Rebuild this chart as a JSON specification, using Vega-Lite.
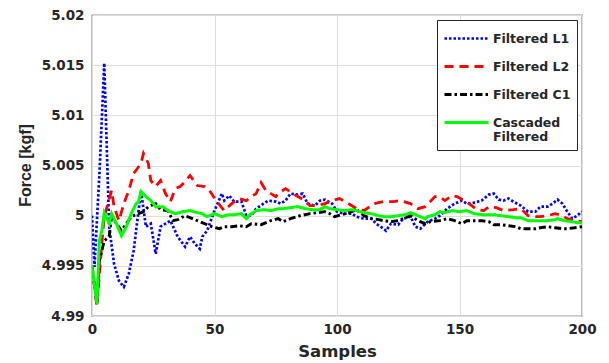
{
"$schema": "https://vega.github.io/schema/vega-lite/v6.json",
"width": 490, "height": 301,
"autosize": {"type": "none"},
"padding": {"left": 92, "top": 15, "right": 27, "bottom": 47},
"background": "white",
"config": {"view": {"stroke": "#262626", "strokeWidth": 1.2}, "font": "DejaVu Sans"},
"data": {"values": [
{"s":"Filtered L1","x":0,"y":5.0},{"s":"Filtered L1","x":1,"y":4.9949},{"s":"Filtered L1","x":3,"y":5.004},{"s":"Filtered L1","x":5,"y":5.0152},{"s":"Filtered L1","x":7,"y":4.9989},{"s":"Filtered L1","x":9,"y":4.9952},{"s":"Filtered L1","x":11,"y":4.9935},{"s":"Filtered L1","x":13,"y":4.9929},{"s":"Filtered L1","x":15,"y":4.9942},{"s":"Filtered L1","x":17,"y":4.9965},{"s":"Filtered L1","x":19,"y":5.0005},{"s":"Filtered L1","x":20,"y":5.0025},{"s":"Filtered L1","x":22,"y":4.9989},{"s":"Filtered L1","x":24,"y":4.9992},{"s":"Filtered L1","x":26,"y":4.9962},{"s":"Filtered L1","x":28,"y":4.9989},{"s":"Filtered L1","x":30,"y":4.9992},{"s":"Filtered L1","x":32,"y":4.9995},{"s":"Filtered L1","x":35,"y":4.9979},{"s":"Filtered L1","x":38,"y":4.9969},{"s":"Filtered L1","x":40,"y":4.9979},{"s":"Filtered L1","x":42,"y":4.9972},{"s":"Filtered L1","x":44,"y":4.9967},{"s":"Filtered L1","x":45,"y":4.9979},{"s":"Filtered L1","x":47,"y":4.9985},{"s":"Filtered L1","x":50,"y":5.0005},{"s":"Filtered L1","x":53,"y":5.0022},{"s":"Filtered L1","x":54,"y":5.0015},{"s":"Filtered L1","x":56,"y":5.002},{"s":"Filtered L1","x":58,"y":5.0014},{"s":"Filtered L1","x":61,"y":5.0014},{"s":"Filtered L1","x":63,"y":5.0},{"s":"Filtered L1","x":65,"y":5.0},{"s":"Filtered L1","x":67,"y":5.0007},{"s":"Filtered L1","x":70,"y":5.0012},{"s":"Filtered L1","x":72,"y":5.0015},{"s":"Filtered L1","x":75,"y":5.0014},{"s":"Filtered L1","x":77,"y":5.0012},{"s":"Filtered L1","x":79,"y":5.0015},{"s":"Filtered L1","x":81,"y":5.0022},{"s":"Filtered L1","x":84,"y":5.0021},{"s":"Filtered L1","x":86,"y":5.0022},{"s":"Filtered L1","x":88,"y":5.0012},{"s":"Filtered L1","x":91,"y":5.001},{"s":"Filtered L1","x":93,"y":5.0015},{"s":"Filtered L1","x":95,"y":5.0016},{"s":"Filtered L1","x":98,"y":5.0012},{"s":"Filtered L1","x":100,"y":5.0004},{"s":"Filtered L1","x":103,"y":5.0002},{"s":"Filtered L1","x":106,"y":5.0002},{"s":"Filtered L1","x":108,"y":4.9999},{"s":"Filtered L1","x":111,"y":4.9997},{"s":"Filtered L1","x":114,"y":4.9997},{"s":"Filtered L1","x":116,"y":4.9992},{"s":"Filtered L1","x":119,"y":4.9987},{"s":"Filtered L1","x":120,"y":4.9985},{"s":"Filtered L1","x":122,"y":4.9992},{"s":"Filtered L1","x":125,"y":4.9991},{"s":"Filtered L1","x":127,"y":4.9997},{"s":"Filtered L1","x":130,"y":4.9999},{"s":"Filtered L1","x":132,"y":4.9989},{"s":"Filtered L1","x":134,"y":4.9987},{"s":"Filtered L1","x":137,"y":4.9994},{"s":"Filtered L1","x":140,"y":4.9997},{"s":"Filtered L1","x":142,"y":5.0},{"s":"Filtered L1","x":145,"y":5.0007},{"s":"Filtered L1","x":148,"y":5.0012},{"s":"Filtered L1","x":151,"y":5.0015},{"s":"Filtered L1","x":153,"y":5.0012},{"s":"Filtered L1","x":156,"y":5.0013},{"s":"Filtered L1","x":159,"y":5.0015},{"s":"Filtered L1","x":162,"y":5.0021},{"s":"Filtered L1","x":164,"y":5.0022},{"s":"Filtered L1","x":166,"y":5.0016},{"s":"Filtered L1","x":168,"y":5.0015},{"s":"Filtered L1","x":170,"y":5.0017},{"s":"Filtered L1","x":172,"y":5.0014},{"s":"Filtered L1","x":175,"y":5.001},{"s":"Filtered L1","x":178,"y":5.0004},{"s":"Filtered L1","x":181,"y":5.0004},{"s":"Filtered L1","x":183,"y":5.0009},{"s":"Filtered L1","x":186,"y":5.0009},{"s":"Filtered L1","x":188,"y":5.0012},{"s":"Filtered L1","x":190,"y":5.0016},{"s":"Filtered L1","x":192,"y":5.0012},{"s":"Filtered L1","x":194,"y":5.0004},{"s":"Filtered L1","x":196,"y":4.9997},{"s":"Filtered L1","x":198,"y":5.0},{"s":"Filtered L1","x":200,"y":5.0004},
{"s":"Filtered L2","x":0,"y":4.995},{"s":"Filtered L2","x":2,"y":4.9909},{"s":"Filtered L2","x":4,"y":4.9972},{"s":"Filtered L2","x":5,"y":4.9999},{"s":"Filtered L2","x":8,"y":5.0025},{"s":"Filtered L2","x":9,"y":5.0009},{"s":"Filtered L2","x":11,"y":4.9995},{"s":"Filtered L2","x":13,"y":5.0012},{"s":"Filtered L2","x":15,"y":5.0025},{"s":"Filtered L2","x":17,"y":5.0042},{"s":"Filtered L2","x":20,"y":5.0052},{"s":"Filtered L2","x":21,"y":5.0062},{"s":"Filtered L2","x":23,"y":5.0052},{"s":"Filtered L2","x":24,"y":5.0035},{"s":"Filtered L2","x":26,"y":5.0029},{"s":"Filtered L2","x":28,"y":5.0035},{"s":"Filtered L2","x":30,"y":5.0022},{"s":"Filtered L2","x":32,"y":5.0014},{"s":"Filtered L2","x":34,"y":5.0027},{"s":"Filtered L2","x":36,"y":5.0029},{"s":"Filtered L2","x":38,"y":5.0034},{"s":"Filtered L2","x":40,"y":5.004},{"s":"Filtered L2","x":43,"y":5.003},{"s":"Filtered L2","x":46,"y":5.0029},{"s":"Filtered L2","x":48,"y":5.0025},{"s":"Filtered L2","x":51,"y":5.0014},{"s":"Filtered L2","x":54,"y":5.0005},{"s":"Filtered L2","x":57,"y":5.0012},{"s":"Filtered L2","x":60,"y":5.0017},{"s":"Filtered L2","x":63,"y":5.0015},{"s":"Filtered L2","x":65,"y":5.0019},{"s":"Filtered L2","x":67,"y":5.0022},{"s":"Filtered L2","x":69,"y":5.0033},{"s":"Filtered L2","x":71,"y":5.0025},{"s":"Filtered L2","x":73,"y":5.0022},{"s":"Filtered L2","x":75,"y":5.0019},{"s":"Filtered L2","x":76,"y":5.0022},{"s":"Filtered L2","x":79,"y":5.0027},{"s":"Filtered L2","x":82,"y":5.0022},{"s":"Filtered L2","x":84,"y":5.0019},{"s":"Filtered L2","x":87,"y":5.0015},{"s":"Filtered L2","x":89,"y":5.001},{"s":"Filtered L2","x":92,"y":5.001},{"s":"Filtered L2","x":95,"y":5.0012},{"s":"Filtered L2","x":98,"y":5.0015},{"s":"Filtered L2","x":101,"y":5.0017},{"s":"Filtered L2","x":104,"y":5.0013},{"s":"Filtered L2","x":108,"y":5.0007},{"s":"Filtered L2","x":111,"y":5.0005},{"s":"Filtered L2","x":115,"y":5.0012},{"s":"Filtered L2","x":119,"y":5.0014},{"s":"Filtered L2","x":123,"y":5.0014},{"s":"Filtered L2","x":126,"y":5.0015},{"s":"Filtered L2","x":130,"y":5.0012},{"s":"Filtered L2","x":133,"y":5.0007},{"s":"Filtered L2","x":136,"y":5.0009},{"s":"Filtered L2","x":140,"y":5.0019},{"s":"Filtered L2","x":142,"y":5.0019},{"s":"Filtered L2","x":144,"y":5.0015},{"s":"Filtered L2","x":147,"y":5.002},{"s":"Filtered L2","x":149,"y":5.0019},{"s":"Filtered L2","x":152,"y":5.0015},{"s":"Filtered L2","x":155,"y":5.001},{"s":"Filtered L2","x":157,"y":5.0006},{"s":"Filtered L2","x":160,"y":5.0005},{"s":"Filtered L2","x":162,"y":5.0009},{"s":"Filtered L2","x":165,"y":5.0008},{"s":"Filtered L2","x":168,"y":5.0005},{"s":"Filtered L2","x":172,"y":5.0006},{"s":"Filtered L2","x":175,"y":5.0007},{"s":"Filtered L2","x":178,"y":5.0},{"s":"Filtered L2","x":181,"y":4.9999},{"s":"Filtered L2","x":183,"y":4.9999},{"s":"Filtered L2","x":186,"y":5.0},{"s":"Filtered L2","x":189,"y":5.0002},{"s":"Filtered L2","x":192,"y":5.0},{"s":"Filtered L2","x":194,"y":4.9997},{"s":"Filtered L2","x":197,"y":4.9995},{"s":"Filtered L2","x":200,"y":4.9994},
{"s":"Filtered C1","x":0,"y":4.995},{"s":"Filtered C1","x":2,"y":4.9912},{"s":"Filtered C1","x":3,"y":4.9955},{"s":"Filtered C1","x":5,"y":4.9975},{"s":"Filtered C1","x":7,"y":4.9979},{"s":"Filtered C1","x":8,"y":4.9999},{"s":"Filtered C1","x":10,"y":4.9992},{"s":"Filtered C1","x":12,"y":4.9985},{"s":"Filtered C1","x":14,"y":4.9992},{"s":"Filtered C1","x":16,"y":4.9999},{"s":"Filtered C1","x":19,"y":5.0002},{"s":"Filtered C1","x":21,"y":5.0004},{"s":"Filtered C1","x":23,"y":5.0009},{"s":"Filtered C1","x":26,"y":5.0012},{"s":"Filtered C1","x":28,"y":5.0006},{"s":"Filtered C1","x":31,"y":5.0005},{"s":"Filtered C1","x":33,"y":4.9995},{"s":"Filtered C1","x":35,"y":4.9996},{"s":"Filtered C1","x":38,"y":5.0},{"s":"Filtered C1","x":41,"y":4.9997},{"s":"Filtered C1","x":43,"y":4.9995},{"s":"Filtered C1","x":46,"y":4.9992},{"s":"Filtered C1","x":49,"y":4.9989},{"s":"Filtered C1","x":52,"y":4.9987},{"s":"Filtered C1","x":54,"y":4.9989},{"s":"Filtered C1","x":57,"y":4.9989},{"s":"Filtered C1","x":60,"y":4.999},{"s":"Filtered C1","x":63,"y":4.9989},{"s":"Filtered C1","x":65,"y":4.9992},{"s":"Filtered C1","x":69,"y":4.9991},{"s":"Filtered C1","x":73,"y":4.9995},{"s":"Filtered C1","x":76,"y":4.9997},{"s":"Filtered C1","x":78,"y":4.9994},{"s":"Filtered C1","x":81,"y":4.9997},{"s":"Filtered C1","x":85,"y":5.0},{"s":"Filtered C1","x":89,"y":5.0002},{"s":"Filtered C1","x":92,"y":5.0003},{"s":"Filtered C1","x":95,"y":5.0004},{"s":"Filtered C1","x":97,"y":5.0002},{"s":"Filtered C1","x":99,"y":4.9999},{"s":"Filtered C1","x":102,"y":5.0001},{"s":"Filtered C1","x":106,"y":5.0004},{"s":"Filtered C1","x":108,"y":5.0006},{"s":"Filtered C1","x":111,"y":5.0},{"s":"Filtered C1","x":114,"y":4.9997},{"s":"Filtered C1","x":117,"y":4.9996},{"s":"Filtered C1","x":119,"y":4.9995},{"s":"Filtered C1","x":122,"y":4.9994},{"s":"Filtered C1","x":125,"y":4.9995},{"s":"Filtered C1","x":127,"y":4.9997},{"s":"Filtered C1","x":130,"y":5.0},{"s":"Filtered C1","x":133,"y":4.9995},{"s":"Filtered C1","x":136,"y":4.9992},{"s":"Filtered C1","x":138,"y":4.9994},{"s":"Filtered C1","x":142,"y":4.9995},{"s":"Filtered C1","x":145,"y":4.9997},{"s":"Filtered C1","x":148,"y":4.9995},{"s":"Filtered C1","x":151,"y":4.9992},{"s":"Filtered C1","x":153,"y":4.9995},{"s":"Filtered C1","x":156,"y":4.9995},{"s":"Filtered C1","x":159,"y":4.9995},{"s":"Filtered C1","x":162,"y":4.9994},{"s":"Filtered C1","x":164,"y":4.9991},{"s":"Filtered C1","x":167,"y":4.9991},{"s":"Filtered C1","x":170,"y":4.999},{"s":"Filtered C1","x":173,"y":4.9989},{"s":"Filtered C1","x":175,"y":4.9987},{"s":"Filtered C1","x":178,"y":4.9987},{"s":"Filtered C1","x":181,"y":4.9987},{"s":"Filtered C1","x":183,"y":4.9988},{"s":"Filtered C1","x":186,"y":4.9989},{"s":"Filtered C1","x":189,"y":4.9988},{"s":"Filtered C1","x":192,"y":4.9987},{"s":"Filtered C1","x":194,"y":4.9987},{"s":"Filtered C1","x":197,"y":4.9988},{"s":"Filtered C1","x":200,"y":4.9989},
{"s":"Cascaded Filtered","x":0,"y":4.995},{"s":"Cascaded Filtered","x":2,"y":4.9912},{"s":"Cascaded Filtered","x":3,"y":4.9975},{"s":"Cascaded Filtered","x":4,"y":4.9985},{"s":"Cascaded Filtered","x":5,"y":5.0003},{"s":"Cascaded Filtered","x":7,"y":4.9992},{"s":"Cascaded Filtered","x":8,"y":5.0002},{"s":"Cascaded Filtered","x":10,"y":4.9992},{"s":"Cascaded Filtered","x":12,"y":4.998},{"s":"Cascaded Filtered","x":14,"y":4.9989},{"s":"Cascaded Filtered","x":16,"y":5.0002},{"s":"Cascaded Filtered","x":18,"y":5.0012},{"s":"Cascaded Filtered","x":19,"y":5.0014},{"s":"Cascaded Filtered","x":20,"y":5.0024},{"s":"Cascaded Filtered","x":22,"y":5.0019},{"s":"Cascaded Filtered","x":24,"y":5.0015},{"s":"Cascaded Filtered","x":26,"y":5.0009},{"s":"Cascaded Filtered","x":29,"y":5.0009},{"s":"Cascaded Filtered","x":31,"y":5.0005},{"s":"Cascaded Filtered","x":34,"y":5.0002},{"s":"Cascaded Filtered","x":37,"y":5.0004},{"s":"Cascaded Filtered","x":40,"y":5.0005},{"s":"Cascaded Filtered","x":43,"y":5.0003},{"s":"Cascaded Filtered","x":45,"y":5.0002},{"s":"Cascaded Filtered","x":47,"y":4.9999},{"s":"Cascaded Filtered","x":50,"y":5.0002},{"s":"Cascaded Filtered","x":53,"y":4.9999},{"s":"Cascaded Filtered","x":56,"y":5.0001},{"s":"Cascaded Filtered","x":58,"y":5.0001},{"s":"Cascaded Filtered","x":61,"y":5.0002},{"s":"Cascaded Filtered","x":63,"y":4.9997},{"s":"Cascaded Filtered","x":65,"y":5.0002},{"s":"Cascaded Filtered","x":67,"y":5.0005},{"s":"Cascaded Filtered","x":70,"y":5.0006},{"s":"Cascaded Filtered","x":73,"y":5.0005},{"s":"Cascaded Filtered","x":76,"y":5.0007},{"s":"Cascaded Filtered","x":78,"y":5.0007},{"s":"Cascaded Filtered","x":81,"y":5.0008},{"s":"Cascaded Filtered","x":84,"y":5.0009},{"s":"Cascaded Filtered","x":87,"y":5.0007},{"s":"Cascaded Filtered","x":90,"y":5.0006},{"s":"Cascaded Filtered","x":93,"y":5.0006},{"s":"Cascaded Filtered","x":95,"y":5.0009},{"s":"Cascaded Filtered","x":97,"y":5.0007},{"s":"Cascaded Filtered","x":100,"y":5.0006},{"s":"Cascaded Filtered","x":103,"y":5.0005},{"s":"Cascaded Filtered","x":106,"y":5.0006},{"s":"Cascaded Filtered","x":108,"y":5.0005},{"s":"Cascaded Filtered","x":111,"y":5.0003},{"s":"Cascaded Filtered","x":114,"y":5.0002},{"s":"Cascaded Filtered","x":117,"y":5.0},{"s":"Cascaded Filtered","x":119,"y":4.9999},{"s":"Cascaded Filtered","x":122,"y":4.9999},{"s":"Cascaded Filtered","x":125,"y":5.0},{"s":"Cascaded Filtered","x":128,"y":5.0001},{"s":"Cascaded Filtered","x":130,"y":5.0003},{"s":"Cascaded Filtered","x":133,"y":5.0},{"s":"Cascaded Filtered","x":136,"y":4.9997},{"s":"Cascaded Filtered","x":137,"y":4.9999},{"s":"Cascaded Filtered","x":140,"y":5.0001},{"s":"Cascaded Filtered","x":142,"y":5.0004},{"s":"Cascaded Filtered","x":144,"y":5.0003},{"s":"Cascaded Filtered","x":147,"y":5.0005},{"s":"Cascaded Filtered","x":150,"y":5.0004},{"s":"Cascaded Filtered","x":153,"y":5.0005},{"s":"Cascaded Filtered","x":156,"y":5.0002},{"s":"Cascaded Filtered","x":159,"y":5.0001},{"s":"Cascaded Filtered","x":162,"y":5.0001},{"s":"Cascaded Filtered","x":164,"y":5.0001},{"s":"Cascaded Filtered","x":167,"y":5.0},{"s":"Cascaded Filtered","x":170,"y":4.9999},{"s":"Cascaded Filtered","x":173,"y":4.9998},{"s":"Cascaded Filtered","x":175,"y":4.9998},{"s":"Cascaded Filtered","x":178,"y":4.9995},{"s":"Cascaded Filtered","x":181,"y":4.9995},{"s":"Cascaded Filtered","x":183,"y":4.9995},{"s":"Cascaded Filtered","x":186,"y":4.9995},{"s":"Cascaded Filtered","x":189,"y":4.9996},{"s":"Cascaded Filtered","x":190,"y":4.9997},{"s":"Cascaded Filtered","x":193,"y":4.9995},{"s":"Cascaded Filtered","x":196,"y":4.9994},{"s":"Cascaded Filtered","x":198,"y":4.9993},{"s":"Cascaded Filtered","x":200,"y":4.9993}
]},
"mark": {"type": "line", "clip": true},
"encoding": {
"x": {"field": "x", "type": "quantitative", "scale": {"domain": [0, 200], "nice": false},
 "axis": {"values": [0, 50, 100, 150, 200], "title": "Samples", "titleFont": "DejaVu Sans", "titleFontSize": 16.5, "titleFontWeight": "bold", "titleColor": "#262626", "titleY": 35, "titleBaseline": "middle",
  "labelFont": "DejaVu Sans", "labelFontSize": 13.5, "labelFontWeight": "bold", "labelColor": "#262626", "labelPadding": 6, "ticks": false, "domain": false, "grid": true, "gridColor": "#dedede", "gridWidth": 1, "labelFlush": false}},
"y": {"field": "y", "type": "quantitative", "scale": {"domain": [4.99, 5.02], "nice": false, "zero": false},
 "axis": {"values": [4.99, 4.995, 5, 5.005, 5.01, 5.015, 5.02], "format": "~g", "title": "Force [kgf]", "titleFont": "Liberation Sans", "titleFontSize": 16, "titleFontWeight": "bold", "titleColor": "#262626", "titleX": -67, "titleY": 150, "titleAngle": -90, "titleAlign": "center", "titleBaseline": "middle",
  "labelFont": "DejaVu Sans", "labelFontSize": 13.5, "labelFontWeight": "bold", "labelColor": "#262626", "labelPadding": 8, "ticks": false, "domain": false, "grid": true, "gridColor": "#dedede", "gridWidth": 1, "labelFlush": false}},
"color": {"field": "s", "type": "nominal",
 "scale": {"domain": ["Filtered L1", "Filtered L2", "Filtered C1", "Cascaded Filtered"], "range": ["#0000ff", "#ff0000", "#000000", "#00ff00"]},
 "legend": {"orient": "none", "legendX": 345, "legendY": 5, "title": null, "direction": "vertical", "strokeColor": "#262626", "fillColor": "white", "padding": 6, "rowPadding": 9,
  "symbolType": "M-1,0H3", "symbolSize": 484, "symbolStrokeWidth": 2.5, "symbolFillColor": "transparent", "labelFont": "DejaVu Sans", "labelFontWeight": "bold", "labelFontSize": 12.5, "labelColor": "#262626", "labelOffset": 25, "labelLimit": 200,
  "labelExpr": "datum.label == 'Cascaded Filtered' ? ['Cascaded', 'Filtered'] : datum.label"}},
"strokeDash": {"field": "s", "type": "nominal",
 "scale": {"domain": ["Filtered L1", "Filtered L2", "Filtered C1", "Cascaded Filtered"], "range": [[2.5, 2], [9, 6], [7, 3, 2.5, 3], [1, 0]]}},
"strokeWidth": {"field": "s", "type": "nominal",
 "scale": {"domain": ["Filtered L1", "Filtered L2", "Filtered C1", "Cascaded Filtered"], "range": [2.7, 3, 3, 2.8]}},
"order": {"field": "x", "type": "quantitative"}
}
}
